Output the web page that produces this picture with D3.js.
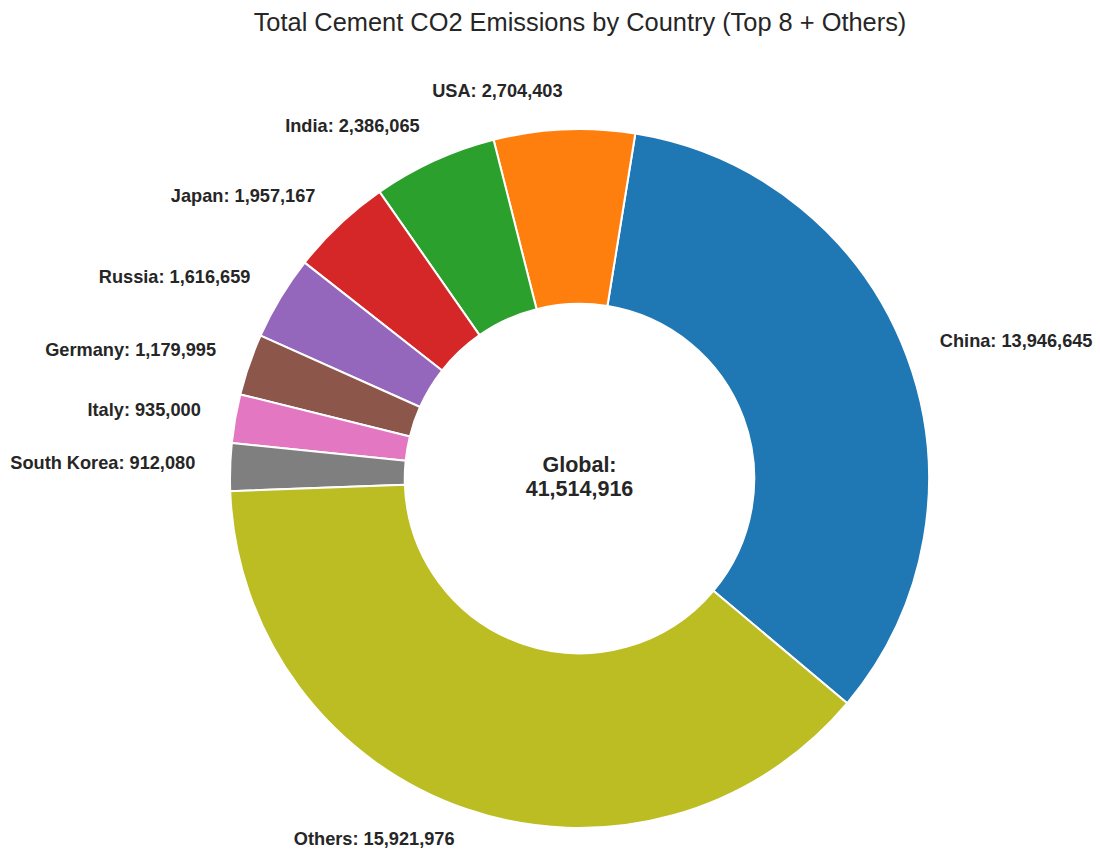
<!DOCTYPE html>
<html>
<head>
<meta charset="utf-8">
<script src="https://cdn.jsdelivr.net/npm/d3@7"></script>
<style>
  html, body { margin: 0; padding: 0; background: #fff; }
  svg { display: block; }
  text { font-family: "Liberation Sans", Arial, sans-serif; fill: #262626; }
</style>
</head>
<body>
<svg id="chart" width="1100" height="852"></svg>
<script>
// Cement CO2 emissions by country (top 8 plus the rest)
const countries = ["China", "USA", "India", "Japan", "Russia", "Germany", "Italy", "South Korea", "Others"];
const emissions = [13946645, 2704403, 2386065, 1957167, 1616659, 1179995, 935000, 912080, 15921976];
const sliceColors = ["#1f77b4", "#ff7f0e", "#2ca02c", "#d62728", "#9467bd", "#8c564b", "#e377c2", "#7f7f7f", "#bcbd22"];
const globalTotal = 41514916;
const chartTitle = "Total Cement CO2 Emissions by Country (Top 8 + Others)";

const svg = d3.select("#chart");
const cx = 579.5, cy = 478.5;
const outerR = 349.5, innerR = outerR * 0.5;
const labelR = outerR * 1.1;

const fmt = d3.format(",");

// Slices run counter-clockwise, the first one starting 40° below 3 o'clock
const startDeg = 130; // d3 angle: clockwise from 12 o'clock
const pie = d3.pie()
  .sort(null)
  .value(d => d.value)
  .startAngle(startDeg * Math.PI / 180)
  .endAngle((startDeg - 360) * Math.PI / 180);

const data = countries.map((c, i) => ({ name: c, value: emissions[i], color: sliceColors[i] }));
const arcs = pie(data);

const arc = d3.arc().innerRadius(innerR).outerRadius(outerR);

const g = svg.append("g").attr("transform", `translate(${cx},${cy})`);

g.selectAll("path.slice")
  .data(arcs)
  .join("path")
  .attr("class", "slice")
  .attr("d", arc)
  .attr("fill", d => d.data.color)
  .attr("stroke", "#ffffff")
  .attr("stroke-width", 2)
  .attr("stroke-linejoin", "round");

// Labels sit just outside the ring, aligned away from the centre
g.selectAll("text.label")
  .data(arcs)
  .join("text")
  .attr("class", "label")
  .each(function(d) {
    const mid = (d.startAngle + d.endAngle) / 2;
    const x = labelR * Math.sin(mid);
    const y = -labelR * Math.cos(mid);
    d3.select(this)
      .attr("x", x)
      .attr("y", y - 3)
      .attr("text-anchor", x >= 0 ? "start" : "end");
  })
  .attr("dominant-baseline", "central")
  .attr("font-size", 18.2)
  .attr("font-weight", "bold")
  .text(d => `${d.data.name}: ${fmt(d.data.value)}`);

// Centre total
const centre = g.append("text")
  .attr("text-anchor", "middle")
  .attr("font-size", 21.5)
  .attr("font-weight", "bold");
centre.append("tspan").attr("x", 0).attr("y", -14).attr("dominant-baseline", "central").text("Global:");
centre.append("tspan").attr("x", 0).attr("y", 10).attr("dominant-baseline", "central").text(fmt(globalTotal));

svg.append("text")
  .attr("x", 580)
  .attr("y", 22)
  .attr("text-anchor", "middle")
  .attr("dominant-baseline", "central")
  .attr("font-size", 25.4)
  .text(chartTitle);
</script>
</body>
</html>
